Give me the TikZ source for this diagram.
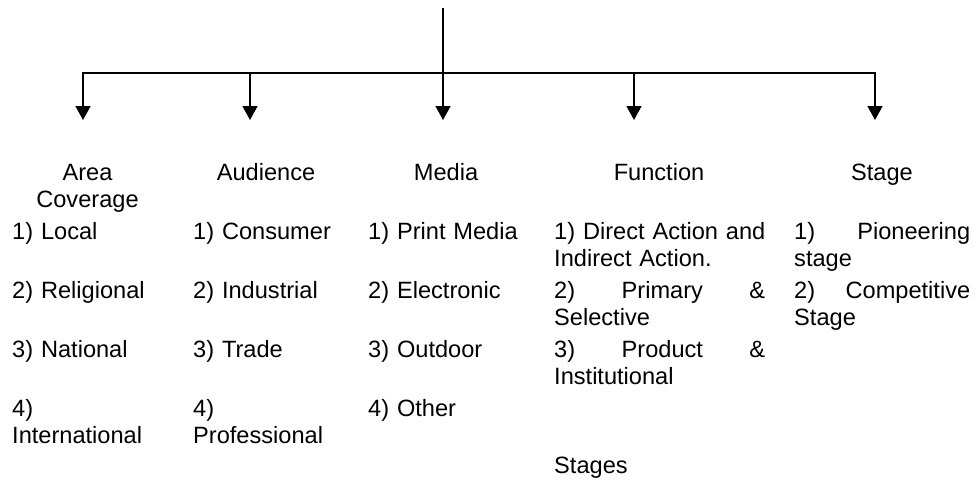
\documentclass[tikz,border=0pt]{standalone}
\usepackage{fontspec}
\setmainfont{Liberation Sans}
\usetikzlibrary{arrows.meta,positioning}

\begin{document}
\begin{tikzpicture}[x=1pt,y=-1pt,
    font=\fontsize{23.6}{27.5}\selectfont,
    branch/.style={line width=1.5pt,-{Triangle[width=15pt,length=14pt]}},
    head/.style={anchor=base,align=center,inner sep=0pt,text width=170pt},
    item/.style={anchor=base west,align=left,inner sep=0pt,text width=170pt}]
    \useasboundingbox (0,0) rectangle (976,479);
    % Stem and branch ends
    \coordinate (top) at (443,8);
    \coordinate (hub) at (443,73);
    \coordinate (tipArea) at (83,120);
    \coordinate (tipAud) at (250,120);
    \coordinate (tipMedia) at (443,120);
    \coordinate (tipFunc) at (634,120);
    \coordinate (tipStage) at (875,120);
    \draw[line width=1.5pt] (top) -- (hub);
    \foreach \t in {tipArea,tipAud,tipMedia,tipFunc,tipStage}
        \draw[branch] (hub) -| (\t);
    % Headings
    \node[head] (area) at (87.5,180) {Area\\Coverage};
    \node[head] (aud) at (266,180) {Audience};
    \node[head] (media) at (446,180) {Media};
    \node[head] (func) at (659,180) {Function};
    \node[head] (stage) at (882,180) {Stage};
    % Area coverage
    \node[item] (area1) at (12,239) {1) Local};
    \node[item] (area2) at (12,298) {2) Religional};
    \node[item] (area3) at (12,357) {3) National};
    \node[item] (area4) at (12,416) {4)\\International};
    % Audience
    \node[item] (aud1) at (193,239) {1) Consumer};
    \node[item] (aud2) at (193,298) {2) Industrial};
    \node[item] (aud3) at (193,357) {3) Trade};
    \node[item] (aud4) at (193,416) {4)\\Professional};
    % Media
    \node[item] (media1) at (368,239) {1) Print Media};
    \node[item] (media2) at (368,298) {2) Electronic};
    \node[item] (media3) at (368,357) {3) Outdoor};
    \node[item] (media4) at (368,416) {4) Other};
    % Function
    \node[item,text width=211pt] (func1) at (554,239) {\mbox{1) Direct Action and}\\Indirect Action.};
    \node[item,text width=211pt] (func2) at (554,298) {2)\hfill Primary\hfill \&\\Selective};
    \node[item,text width=211pt] (func3) at (554,357) {3)\hfill Product\hfill \&\\Institutional};
    \node[item] (stages) at (554,473) {Stages};
    % Stage
    \node[item,text width=176pt] (stage1) at (794,239) {1)\hfill Pioneering\\stage};
    \node[item,text width=176pt] (stage2) at (794,298) {2)\hfill Competitive\\Stage};
\end{tikzpicture}
\end{document}
